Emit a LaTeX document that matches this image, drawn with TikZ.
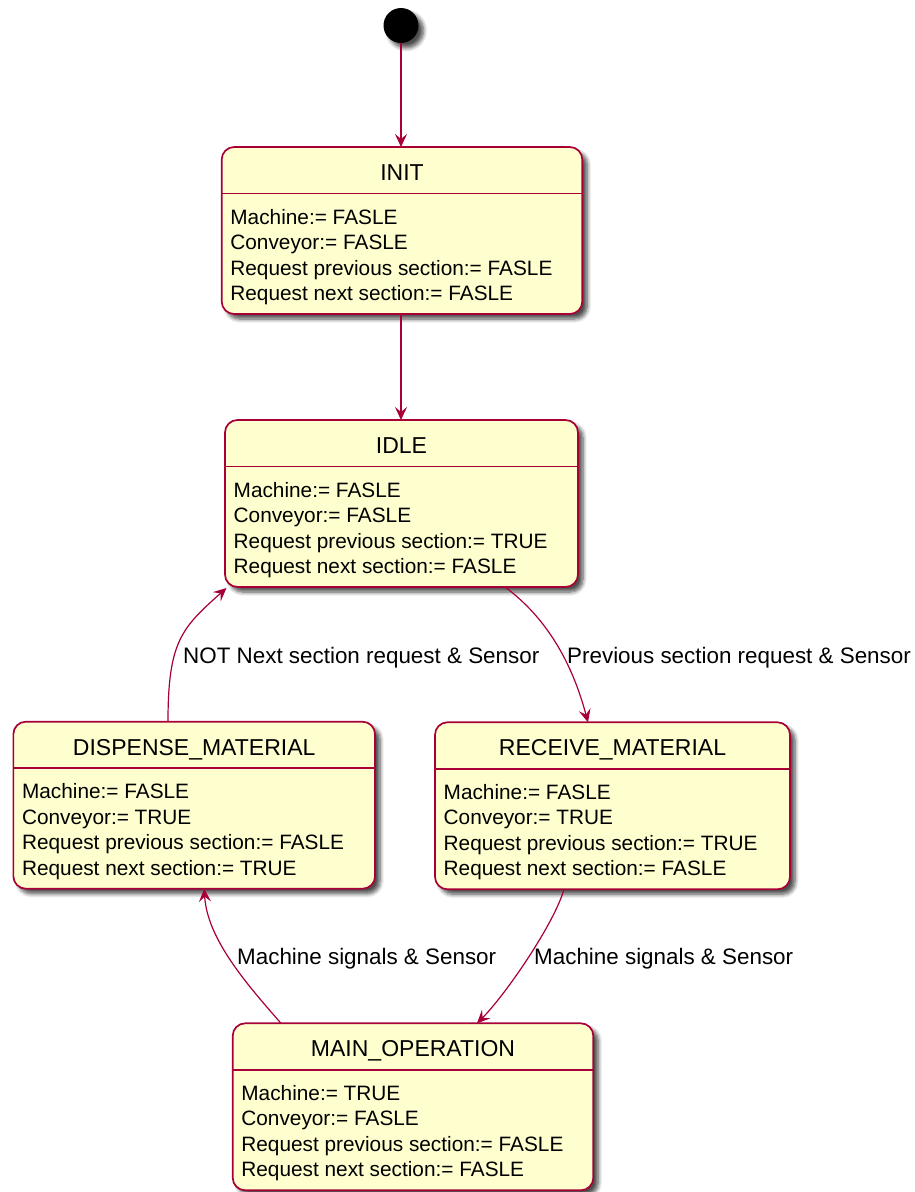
\documentclass[tikz,border=0pt]{standalone}
\usepackage{fontspec}
\setmainfont{Liberation Sans}
\usepackage{tikz}
\usetikzlibrary{calc,shapes,arrows.meta,shadows.blur}

\definecolor{umlred}{HTML}{A80036}
\definecolor{umlfill}{HTML}{FEFECE}

\tikzset{
  umlshadow/.style={blur shadow={shadow xshift=5pt, shadow yshift=-5pt, shadow blur steps=6, shadow blur radius=4pt, shadow opacity=70}},
  state box/.style={draw=umlred, fill=umlfill, line width=1.7pt, rounded corners=12.5pt,
    minimum height=167pt, inner sep=0pt, outer sep=0pt, umlshadow},
  state title/.style={font=\fontsize{23}{27}\selectfont, anchor=base, inner sep=0pt},
  state text/.style={font=\fontsize{20.8}{25}\selectfont, anchor=base west, inner sep=0pt},
  trans label/.style={font=\fontsize{22.4}{26}\selectfont, anchor=base west, inner sep=0pt},
  trans/.style={draw=umlred, line width=1.2pt, -{Stealth[length=13pt, width=12pt, inset=5pt]}},
}

\newcommand{\umlstate}[9]{%
  \node[state box, minimum width=#4pt] (#1) at (#2,#3+83.5) {};
  \node[state title] (#1-title) at ([yshift=-33.5pt]#1.north) {#5};
  \draw[umlred, line width=1.5pt] ([yshift=-46.5pt]#1.north west) -- ([yshift=-46.5pt]#1.north east);
  \node[state text] (#1-a) at ([xshift=8.5pt,yshift=-77pt]#1.north west) {#6};
  \node[state text] (#1-b) at ([xshift=8.5pt,yshift=-102.5pt]#1.north west) {#7};
  \node[state text] (#1-c) at ([xshift=8.5pt,yshift=-128pt]#1.north west) {#8};
  \node[state text] (#1-d) at ([xshift=8.5pt,yshift=-153.5pt]#1.north west) {#9};
}

\begin{document}
\begin{tikzpicture}[x=1pt, y=-1pt]
        \useasboundingbox (0,0) rectangle (914,1192);
        \node[circle, fill=black, minimum size=35pt, inner sep=0pt, outer sep=0pt, umlshadow] (start) at (401,25.5) {};
        \umlstate{init}{402}{147}{360.6}{INIT}{Machine:= FASLE}{Conveyor:= FASLE}{Request previous section:= FASLE}{Request next section:= FASLE}
        \umlstate{idle}{401.5}{420}{353}{IDLE}{Machine:= FASLE}{Conveyor:= FASLE}{Request previous section:= TRUE}{Request next section:= FASLE}
        \umlstate{dispense}{194.2}{721.7}{361.7}{DISPENSE\_MATERIAL}{Machine:= FASLE}{Conveyor:= TRUE}{Request previous section:= FASLE}{Request next section:= TRUE}
        \umlstate{receive}{612.5}{722.3}{355}{RECEIVE\_MATERIAL}{Machine:= FASLE}{Conveyor:= TRUE}{Request previous section:= TRUE}{Request next section:= FASLE}
        \umlstate{main}{413}{1023.3}{360.6}{MAIN\_OPERATION}{Machine:= TRUE}{Conveyor:= FASLE}{Request previous section:= FASLE}{Request next section:= FASLE}

        \draw[trans] (start) -- (start |- init.north);
        \draw[trans] (init.south -| start) -- (idle.north -| start);
        \draw[trans] ([xshift=103.5pt]idle.south) .. controls +(50,37) and +(-12,-45) .. ([xshift=-24.5pt]receive.north);
        \draw[trans] ([xshift=-26.2pt]dispense.north) .. controls +(0,-80) and +(-45,40) .. ([xshift=1.5pt,yshift=-1pt]idle.south west);
        \draw[trans] ([xshift=-48.5pt]receive.south) .. controls +(-10,35) and +(28,-28) .. ([xshift=64pt]main.north);
        \draw[trans] ([xshift=-132pt]main.north) .. controls +(-35,-40) and +(3,50) .. ([xshift=10pt]dispense.south);

        \node[trans label] (lbl-not) at (183,663) {NOT Next section request \& Sensor};
        \node[trans label] (lbl-prev) at (567,663) {Previous section request \& Sensor};
        \node[trans label] (lbl-disp) at (237,964) {Machine signals \& Sensor};
        \node[trans label] (lbl-recv) at (534,964) {Machine signals \& Sensor};
    \end{tikzpicture}
\end{document}
